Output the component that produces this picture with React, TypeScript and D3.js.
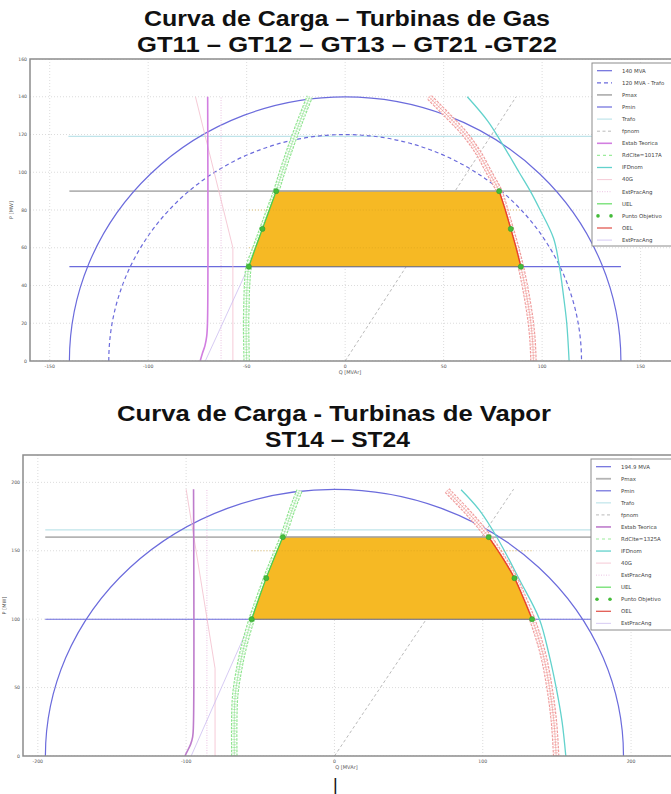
import * as d3 from 'd3';

type Pt = [number, number]; // [Q MVAr, P MW]

// ---------------- Turbinas de Gas ----------------
const gasQTicks = [-150, -100, -50, 0, 50, 100, 150];
const gasPTicks = [0, 20, 40, 60, 80, 100, 120, 140, 160];
const gasSmax = 140;
const gasStrafo = 120;
const gasPmaxLine: Pt[] = [[-140, 90], [175, 90]];
const gasPminLine: Pt[] = [[-140, 50], [140, 50]];
const gasTrafoLine: Pt[] = [[-140.5, 119], [175, 119]];
const gasFpnom: Pt[] = [[0, 0], [86.8, 140]];
const gasEstab: Pt[] = [[-73.6, 0], [-72.5, 4], [-71.2, 8], [-70.3, 13], [-69.9, 20], [-69.8, 140]];
const gas40G: Pt[] = [[-76, 140], [-57, 60], [-57, 0]];
const gasEstPrac1: Pt[] = [[-63, 0], [-63, 140]];
const gasEstPrac2: Pt[] = [[-71, 0], [-49, 50]];
const gasIFD: Pt[] = [[113.7, 0], [112.5, 20], [110.8, 35], [108.8, 50], [105.8, 65], [99, 80], [94, 90], [88.3, 100], [80.4, 114], [72.5, 127], [62, 140]];
const gasUEL: Pt[] = [[-50, 0], [-50.2, 10], [-50.3, 20], [-50.1, 30], [-49.8, 40], [-48.9, 50], [-45.5, 60], [-42, 70], [-38.5, 80], [-35, 90], [-32, 100], [-28.8, 110], [-25.4, 120], [-21.8, 130], [-18, 140]];
const gasOEL: Pt[] = [[95.6, 0], [95.2, 10], [94.3, 20], [92.9, 30], [91.2, 40], [89.2, 50], [86.8, 60], [84.1, 70], [81.3, 80], [78.2, 90], [73, 100], [67.8, 110], [61, 120], [52, 130], [42.5, 140]];
const gasTargets: Pt[] = [[-48.9, 50], [-42, 70], [-35, 90], [78.2, 90], [84.1, 70], [89.2, 50]];
const gasLegend = ['140 MVA', '120 MVA - Trafo', 'Pmax', 'Pmin', 'Trafo', 'fpnom', 'Estab Teorica', 'RdClte=1017A', 'IFDnom', '40G', 'EstPracAng', 'UEL', 'Punto Objetivo', 'OEL', 'EstPracAng'];
const gasLegendKeys = ['smax', 'strafo', 'pmax', 'pmin', 'trafo', 'fpnom', 'estab', 'rdc', 'ifd', 'g40', 'prac1', 'uel', 'target', 'oel', 'prac2'];

// ---------------- Turbinas de Vapor ----------------
const stQTicks = [-200, -100, 0, 100, 200];
const stPTicks = [0, 50, 100, 150, 200];
const stSmax = 194.9;
const stPmaxLine: Pt[] = [[-195, 160], [233, 160]];
const stPminLine: Pt[] = [[-195, 100], [233, 100]];
const stTrafoLine: Pt[] = [[-195, 165.3], [233, 165.3]];
const stFpnom: Pt[] = [[0, 0], [120.8, 195]];
const stEstab: Pt[] = [[-100.8, 0], [-99, 4], [-97, 8.5], [-95.6, 14], [-95.1, 22], [-95, 195]];
const st40G: Pt[] = [[-100, 195], [-80.5, 64], [-80.5, 0]];
const stEstPrac1: Pt[] = [[-86, 0], [-86, 195]];
const stEstPrac2: Pt[] = [[-96.6, 0], [-55.8, 100]];
const stIFD: Pt[] = [[156, 0], [153.5, 25], [149.5, 50], [144.5, 75], [138.2, 100], [124.7, 129], [110, 159], [97.5, 180], [85.4, 194.6]];
const stUEL: Pt[] = [[-67.5, 0], [-67.6, 20], [-67.2, 40], [-66.3, 50], [-64, 65], [-61, 80], [-55.8, 100], [-51, 115], [-46, 130], [-40.5, 145], [-34.8, 160], [-28.5, 180], [-23.6, 194]];
const stOEL: Pt[] = [[149.5, 0], [148, 25], [145, 50], [140.5, 75], [133.3, 100], [127.6, 115], [121.4, 130], [113.3, 145], [104, 160], [92.5, 175], [76, 194]];
const stTargets: Pt[] = [[-55.8, 100], [-46, 130], [-34.8, 160], [104, 160], [121.4, 130], [133.3, 100]];
const stLegend = ['194.9 MVA', 'Pmax', 'Pmin', 'Trafo', 'fpnom', 'Estab Teorica', 'RdClte=1325A', 'IFDnom', '40G', 'EstPracAng', 'UEL', 'Punto Objetivo', 'OEL', 'EstPracAng'];
const stLegendKeys = ['smax', 'pmax', 'pmin', 'trafo', 'fpnom', 'estab', 'rdc', 'ifd', 'g40', 'prac1', 'uel', 'target', 'oel', 'prac2'];

const BLUE = '#6b6bdc';
const FONT = 'DejaVu Sans, sans-serif';

const styles: Record<string, { stroke: string; width: number; dash?: string }> = {
  smax: { stroke: BLUE, width: 1.2 },
  strafo: { stroke: BLUE, width: 1.2, dash: '4 3' },
  pmax: { stroke: '#b4b4b4', width: 1.8 },
  pmin: { stroke: BLUE, width: 1.2 },
  trafo: { stroke: '#bfe4ea', width: 1.2 },
  fpnom: { stroke: '#a8a8a8', width: 0.8, dash: '3 2.5' },
  estab: { stroke: '#d27ee0', width: 1.6 },
  rdc: { stroke: '#9cec9c', width: 1.2, dash: '3 3' },
  ifd: { stroke: '#62d2cc', width: 1.3 },
  g40: { stroke: '#f2bccb', width: 0.8 },
  prac1: { stroke: '#e6b2da', width: 0.8, dash: '1 1.5' },
  uel: { stroke: '#6ee06e', width: 1.3 },
  oel: { stroke: '#e25a52', width: 1.3 },
  prac2: { stroke: '#cbbcf0', width: 0.8 },
};

interface ChartProps {
  id: string;
  box: { left: number; right: number; top: number; bottom: number };
  qDomain: [number, number];
  pDomain: [number, number];
  qTicks: number[];
  pTicks: number[];
  circles: { r: number; dashed: boolean }[];
  pmax: Pt[];
  pmin: Pt[];
  trafo: Pt[];
  fpnom: Pt[];
  estab: Pt[];
  g40: Pt[];
  prac1: Pt[];
  prac2: Pt[];
  ifd: Pt[];
  uel: Pt[];
  oel: Pt[];
  targets: Pt[];
  legend: string[];
  legendKeys: string[];
  legendBox: { x: number; y: number; h: number; first: number; step: number };
  estabColor: string;
}

function Chart(p: ChartProps) {
  const { box } = p;
  const x = d3.scaleLinear().domain(p.qDomain).range([box.left, box.right]);
  const y = d3.scaleLinear().domain(p.pDomain).range([box.bottom, box.top]);
  const line = d3.line<Pt>().x((d) => x(d[0])).y((d) => y(d[1]));
  const curve = d3.line<Pt>().x((d) => x(d[0])).y((d) => y(d[1])).curve(d3.curveCatmullRom);

  const pLo = p.pmin[0][1];
  const pHi = p.pmax[0][1];
  const inBand = (d: Pt) => d[1] >= pLo - 1e-6 && d[1] <= pHi + 1e-6;
  const fillPts: Pt[] = [...p.uel.filter(inBand), ...p.oel.filter(inBand).reverse()];
  const fillL = fillPts[0];
  const fillR = fillPts[fillPts.length - 1];
  const topL = p.uel.filter(inBand).slice(-1)[0];
  const topR = p.oel.filter(inBand).slice(-1)[0];

  const band = (pts: Pt[], light: string, mid: string, dark: string) => {
    const d = curve(pts) ?? '';
    return (
      <g fill="none">
        <path d={d} stroke={light} strokeWidth={6.5} strokeDasharray="2.6 1.2" />
        <path d={d} stroke="#ffffff" strokeWidth={4.2} />
        <path d={d} stroke={mid} strokeWidth={4.2} strokeDasharray="0.9 1.8" opacity={0.85} />
        <path d={d} stroke={dark} strokeWidth={0.6} opacity={0.55} />
      </g>
    );
  };

  const st = (k: string) => styles[k];
  const clipId = `clip-${p.id}`;
  const cx = (box.left + box.right) / 2;
  const cy = (box.top + box.bottom) / 2;
  const lb = p.legendBox;

  return (
    <g>
      <defs>
        <clipPath id={clipId}>
          <rect x={box.left} y={box.top} width={box.right - box.left} height={box.bottom - box.top} />
        </clipPath>
      </defs>
      <rect x={box.left} y={box.top} width={box.right - box.left} height={box.bottom - box.top} fill="#fff" />
      <g clipPath={`url(#${clipId})`}>
        {/* grid */}
        {p.qTicks.map((t) => (
          <line key={`gx${t}`} x1={x(t)} x2={x(t)} y1={box.top} y2={box.bottom} stroke="#c4c4c4" strokeWidth={0.6} strokeDasharray="1 2" />
        ))}
        {p.pTicks.map((t) => (
          <line key={`gy${t}`} x1={box.left} x2={box.right} y1={y(t)} y2={y(t)} stroke="#c4c4c4" strokeWidth={0.6} strokeDasharray="1 2" />
        ))}
        {/* reference lines */}
        <path d={line(p.fpnom) ?? ''} fill="none" stroke={st('fpnom').stroke} strokeWidth={0.8} strokeDasharray="3 2.5" />
        <path d={line(p.trafo) ?? ''} fill="none" stroke={st('trafo').stroke} strokeWidth={1.2} />
        <path d={line(p.pmax) ?? ''} fill="none" stroke={st('pmax').stroke} strokeWidth={1.8} />
        <path d={line(p.pmin) ?? ''} fill="none" stroke={BLUE} strokeWidth={1.1} />
        {p.circles.map((c, i) => (
          <path
            key={i}
            d={`M${x(-c.r)},${y(0)} A${x(c.r) - x(0)},${y(0) - y(c.r)} 0 0 1 ${x(c.r)},${y(0)}`}
            fill="none"
            stroke={BLUE}
            strokeWidth={1.2}
            strokeDasharray={c.dashed ? '4 3' : undefined}
          />
        ))}
        <path d={line(p.prac1) ?? ''} fill="none" stroke={st('prac1').stroke} strokeWidth={0.8} strokeDasharray="1 1.5" />
        <path d={line(p.g40) ?? ''} fill="none" stroke={st('g40').stroke} strokeWidth={0.8} />
        <path d={line(p.prac2) ?? ''} fill="none" stroke={st('prac2').stroke} strokeWidth={0.8} />
        <path d={curve(p.estab) ?? ''} fill="none" stroke={p.estabColor} strokeWidth={1.6} />
        <path d={curve(p.ifd) ?? ''} fill="none" stroke={st('ifd').stroke} strokeWidth={1.3} />
        {band(p.uel, '#8fe48f', '#b4f0b4', '#3fc23f')}
        {band(p.oel, '#f09c9c', '#f6bcbc', '#e0463e')}
        {/* operating region */}
        <path d={(line(fillPts) ?? '') + 'Z'} fill="#f6b924" stroke="none" />
        <line x1={x(topL[0])} x2={x(topR[0])} y1={y(pHi)} y2={y(pHi)} stroke="#a0a0a0" strokeWidth={1.2} />
        <line x1={x(fillL[0])} x2={x(fillR[0])} y1={y(pLo)} y2={y(pLo)} stroke="#7a7a7a" strokeWidth={1} />
        <path d={curve(p.uel.filter(inBand)) ?? ''} fill="none" stroke="#4ccc4c" strokeWidth={1.3} />
        <path d={curve(p.oel.filter(inBand)) ?? ''} fill="none" stroke="#e8402c" strokeWidth={1.4} />
        {p.pTicks.map((t) =>
          t > pLo && t < pHi ? (
            <line key={`gf${t}`} x1={x(fillL[0])} x2={x(fillR[0])} y1={y(t)} y2={y(t)} stroke="#d9a21c" strokeWidth={0.6} strokeDasharray="1 2" />
          ) : null,
        )}
        {p.targets.map((d, i) => (
          <circle key={i} cx={x(d[0])} cy={y(d[1])} r={2.6} fill="#44bb3a" stroke="#2e9a2e" strokeWidth={0.5} />
        ))}
      </g>
      {/* frame */}
      <rect x={box.left} y={box.top} width={box.right - box.left} height={box.bottom - box.top} fill="none" stroke="#8c8c8c" strokeWidth={1.5} />
      {p.qTicks.map((t) => (
        <text key={`tx${t}`} x={x(t)} y={box.bottom + 7} fontSize={4.6} fontFamily={FONT} fill="#555" textAnchor="middle">
          {t}
        </text>
      ))}
      {p.pTicks.map((t) => (
        <text key={`ty${t}`} x={box.left - 3} y={y(t) + 1.6} fontSize={4.6} fontFamily={FONT} fill="#555" textAnchor="end">
          {t}
        </text>
      ))}
      <text x={cx - 5} y={box.bottom + 13} fontSize={5} fontFamily={FONT} fill="#555" textAnchor="middle">
        Q [MVAr]
      </text>
      <text transform={`translate(${box.left - 17},${cy}) rotate(-90)`} fontSize={5} fontFamily={FONT} fill="#555" textAnchor="middle">
        P [MW]
      </text>
      {/* legend */}
      <rect x={lb.x} y={lb.y} width={120} height={lb.h} fill="#fff" stroke="#8c8c8c" strokeWidth={1} />
      {p.legend.map((label, i) => {
        const k = p.legendKeys[i];
        const yy = lb.first + i * lb.step;
        const s = st(k);
        return (
          <g key={i}>
            {k === 'target' ? (
              <>
                <circle cx={lb.x + 6} cy={yy} r={1.8} fill="#44bb3a" />
                <circle cx={lb.x + 19} cy={yy} r={1.8} fill="#44bb3a" />
              </>
            ) : (
              <line
                x1={lb.x + 5}
                x2={lb.x + 20}
                y1={yy}
                y2={yy}
                stroke={k === 'estab' ? p.estabColor : s.stroke}
                strokeWidth={s.width}
                strokeDasharray={s.dash}
              />
            )}
            <text x={lb.x + 30} y={yy + 1.8} fontSize={5.4} fontFamily={FONT} fill="#444">
              {label}
            </text>
          </g>
        );
      })}
    </g>
  );
}

export default function App() {
  const titleStyle = { fontFamily: 'Liberation Sans, Arial, sans-serif', fontWeight: 700, fontSize: 22, fill: '#111' };
  return (
    <svg width={671} height={794} style={{ position: 'absolute', left: 0, top: 0, background: '#fff' }}>
      <text x={144} y={26} textLength={406} lengthAdjust="spacingAndGlyphs" {...titleStyle}>
        Curva de Carga – Turbinas de Gas
      </text>
      <text x={137} y={52} textLength={420} lengthAdjust="spacingAndGlyphs" {...titleStyle}>
        GT11 – GT12 – GT13 – GT21 -GT22
      </text>
      <Chart
        id="gas"
        box={{ left: 30, right: 680, top: 59, bottom: 361 }}
        qDomain={[-160, 170]}
        pDomain={[0, 160]}
        qTicks={gasQTicks}
        pTicks={gasPTicks}
        circles={[{ r: gasSmax, dashed: false }, { r: gasStrafo, dashed: true }]}
        pmax={gasPmaxLine}
        pmin={gasPminLine}
        trafo={gasTrafoLine}
        fpnom={gasFpnom}
        estab={gasEstab}
        g40={gas40G}
        prac1={gasEstPrac1}
        prac2={gasEstPrac2}
        ifd={gasIFD}
        uel={gasUEL}
        oel={gasOEL}
        targets={gasTargets}
        legend={gasLegend}
        legendKeys={gasLegendKeys}
        legendBox={{ x: 592, y: 63, h: 183, first: 70.7, step: 12.1 }}
        estabColor="#d27ee0"
      />
      <text x={117} y={421} textLength={434} lengthAdjust="spacingAndGlyphs" {...titleStyle}>
        Curva de Carga - Turbinas de Vapor
      </text>
      <text x={265} y={447} textLength={145} lengthAdjust="spacingAndGlyphs" {...titleStyle}>
        ST14 – ST24
      </text>
      <Chart
        id="st"
        box={{ left: 23, right: 680, top: 455, bottom: 756 }}
        qDomain={[-210, 233]}
        pDomain={[0, 220]}
        qTicks={stQTicks}
        pTicks={stPTicks}
        circles={[{ r: stSmax, dashed: false }]}
        pmax={stPmaxLine}
        pmin={stPminLine}
        trafo={stTrafoLine}
        fpnom={stFpnom}
        estab={stEstab}
        g40={st40G}
        prac1={stEstPrac1}
        prac2={stEstPrac2}
        ifd={stIFD}
        uel={stUEL}
        oel={stOEL}
        targets={stTargets}
        legend={stLegend}
        legendKeys={stLegendKeys}
        legendBox={{ x: 591, y: 459, h: 171, first: 466.7, step: 12.05 }}
        estabColor="#be7ccc"
      />
      <text x={333} y={791} fontSize={18} fontFamily="Liberation Sans, sans-serif" fill="#111">
        |
      </text>
    </svg>
  );
}
